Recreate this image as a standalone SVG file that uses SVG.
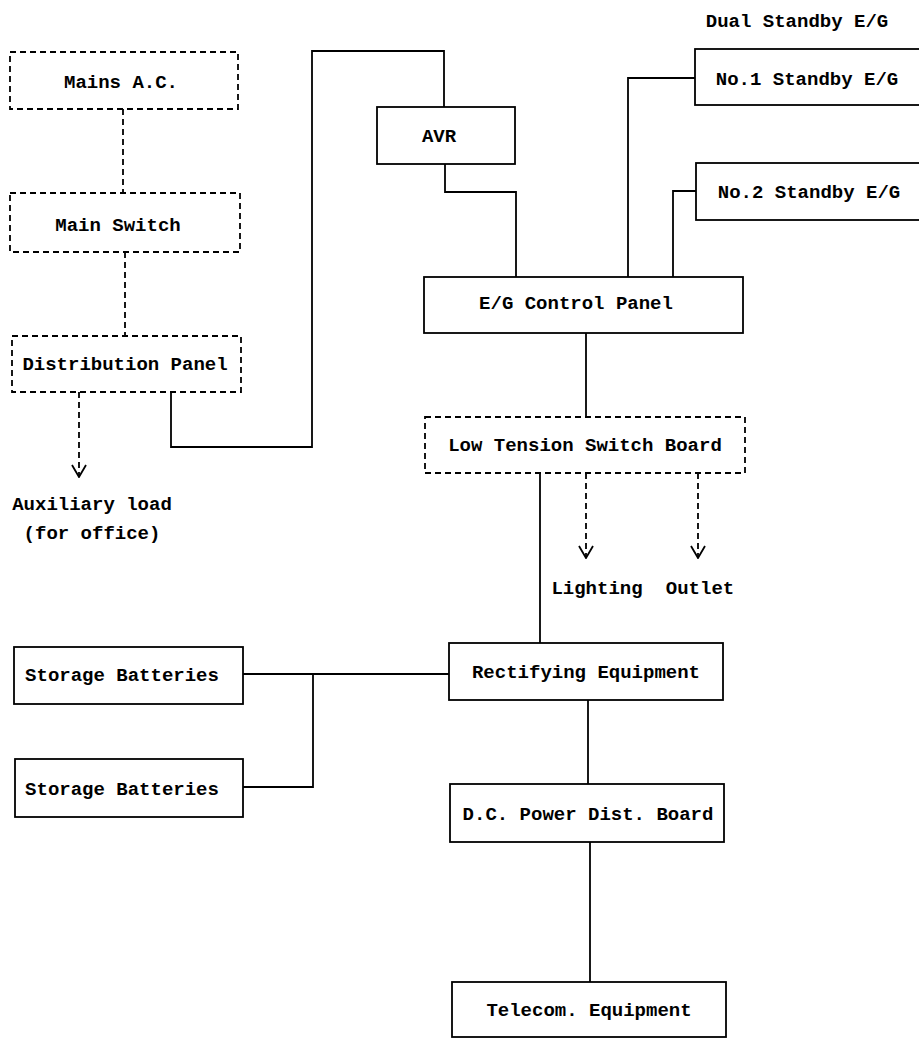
<svg xmlns="http://www.w3.org/2000/svg" width="919" height="1039" viewBox="0 0 919 1039">
<style>
.box{fill:#fff;stroke:#000;stroke-width:1.8}
.dbox{fill:#fff;stroke:#000;stroke-width:1.8;stroke-dasharray:6 4}
.ln{fill:none;stroke:#000;stroke-width:1.8}
.dln{fill:none;stroke:#000;stroke-width:1.8;stroke-dasharray:6 4}
text{font-family:"Liberation Mono","DejaVu Sans Mono",monospace;font-size:19px;font-weight:bold;fill:#000;text-anchor:middle}
</style>
<defs>
<marker id="vee" markerWidth="14" markerHeight="16" refX="13" refY="8" orient="auto" markerUnits="userSpaceOnUse" viewBox="0 0 14 16">
<path d="M1,1 L13,8 L1,15" fill="none" stroke="#000" stroke-width="1.8"/>
</marker>
</defs>
<rect width="919" height="1039" fill="#fff"/>
<g id="connectors">
<path class="dln" d="M123,109 V193"/>
<path class="dln" d="M125,252 V336"/>
<path class="dln" d="M79,392 V477" marker-end="url(#vee)"/>
<path class="ln" d="M171,392 V447 H312 V51 H444 V107"/>
<path class="ln" d="M445,164 V192 H516 V277"/>
<path class="ln" d="M628,277 V78 H695"/>
<path class="ln" d="M673,277 V191 H696"/>
<path class="ln" d="M586,333 V417"/>
<path class="ln" d="M540,473 V643"/>
<path class="dln" d="M586,473 V558" marker-end="url(#vee)"/>
<path class="dln" d="M698,473 V558" marker-end="url(#vee)"/>
<path class="ln" d="M243,674 H449"/>
<path class="ln" d="M313,674 V787 H243"/>
<path class="ln" d="M588,700 V784"/>
<path class="ln" d="M590,842 V982"/>
</g>
<g id="mains"><rect class="dbox" x="10" y="52" width="228" height="57"/><text x="121" y="88">Mains A.C.</text></g>
<g id="mainswitch"><rect class="dbox" x="10" y="193" width="230" height="59"/><text x="118" y="231">Main Switch</text></g>
<g id="distpanel"><rect class="dbox" x="12" y="336" width="229" height="56"/><text x="125" y="370">Distribution Panel</text></g>
<g id="auxload"><text x="92" y="510">Auxiliary load</text><text x="92" y="539">(for office)</text></g>
<g id="avr"><rect class="box" x="377" y="107" width="138" height="57"/><text x="439" y="142">AVR</text></g>
<g id="dual"><text x="797" y="27">Dual Standby E/G</text></g>
<g id="eg1"><rect class="box" x="695" y="49" width="228" height="56"/><text x="807" y="85">No.1 Standby E/G</text></g>
<g id="eg2"><rect class="box" x="696" y="163" width="228" height="57"/><text x="809" y="198">No.2 Standby E/G</text></g>
<g id="egpanel"><rect class="box" x="424" y="277" width="319" height="56"/><text x="576" y="309">E/G Control Panel</text></g>
<g id="ltsb"><rect class="dbox" x="425" y="417" width="320" height="56"/><text x="585" y="451">Low Tension Switch Board</text></g>
<g id="lighting"><text x="597" y="594">Lighting</text></g>
<g id="outlet"><text x="700" y="594">Outlet</text></g>
<g id="sb1"><rect class="box" x="14" y="647" width="229" height="57"/><text x="122" y="681">Storage Batteries</text></g>
<g id="sb2"><rect class="box" x="15" y="759" width="228" height="58"/><text x="122" y="795">Storage Batteries</text></g>
<g id="rect"><rect class="box" x="449" y="643" width="274" height="57"/><text x="586" y="678">Rectifying Equipment</text></g>
<g id="dcpdb"><rect class="box" x="450" y="784" width="274" height="58"/><text x="588" y="820">D.C. Power Dist. Board</text></g>
<g id="telecom"><rect class="box" x="452" y="982" width="274" height="55"/><text x="589" y="1016">Telecom. Equipment</text></g>
</svg>
